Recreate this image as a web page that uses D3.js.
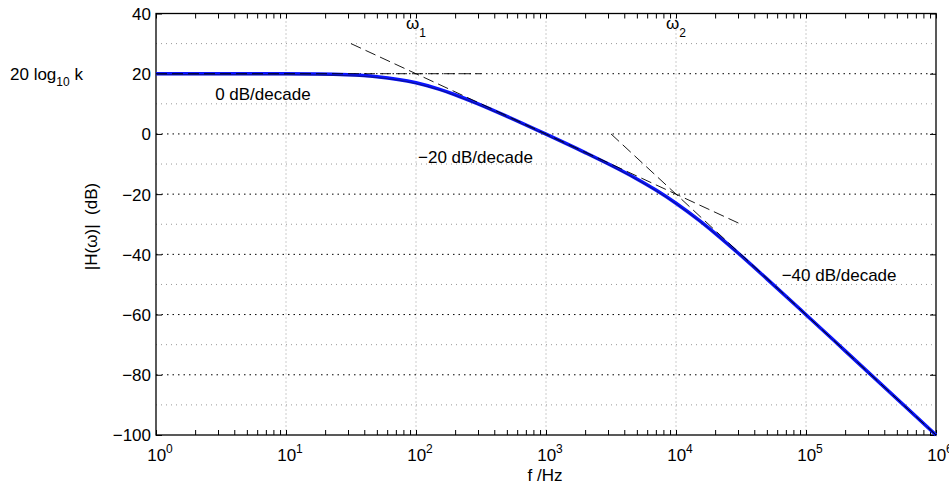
<!DOCTYPE html>
<html>
<head>
<meta charset="utf-8">
<script src="https://cdn.jsdelivr.net/npm/d3@7"></script>
<style>
  body { margin: 0; background: #fff; }
  svg { font-family: "Liberation Sans", Arial, Helvetica, sans-serif; font-size: 17px; }
  .axis path { display: none; }
  .axis line { stroke: #000; }
</style>
</head>
<body>
<div id="chart"></div>
<script>
// data
const freqs = [1, 10, 30, 50, 100, 150, 200, 300, 500, 1000, 2000, 3000, 5000, 7000,
  10000, 15000, 20000, 30000, 50000, 100000, 200000, 1000000];
const magDb = [20, 19.96, 19.63, 19.03, 16.99, 14.88, 13.01, 9.99, 5.84, -0.09, -6.2, -9.92, -14.95, -18.63,
  -23.01, -28.64, -33.01, -39.54, -48.13, -60.04, -72.05, -100];

// straight-line asymptotes (dashed)
const asymFreqs = [[1, 316], [31.6, 31623], [3162, 1000000]];
const asymDb = [[20, 20], [30, -30], [0, -100]];

const decades = [1, 10, 100, 1000, 10000, 100000, 1000000];
const decadeExp = ['0', '1', '2', '3', '4', '5', '6'];
const yTicks = [40, 20, 0, -20, -40, -60, -80, -100];
const yMinor = [30, 10, -10, -30, -50, -70, -90];

const width = 949, height = 486;
const margins = { top: 13.5, right: 13, bottom: 51, left: 156 };
const innerW = width - margins.left - margins.right;
const innerH = height - margins.top - margins.bottom;

const xScale = d3.scaleLog().domain([1, 1e6]).range([0, innerW]);
const yScale = d3.scaleLinear().domain([-100, 40]).range([innerH, 0]);

const $svg = d3.select('#chart').append('svg')
  .attr('width', width)
  .attr('height', height);

const $g = $svg.append('g')
  .attr('transform', `translate(${margins.left}, ${margins.top})`);

// grid
const $grid = $g.append('g').attr('class', 'grid');
$grid.selectAll('line.vg')
  .data(decades.slice(1, -1))
  .enter().append('line')
  .attr('x1', d => xScale(d)).attr('x2', d => xScale(d))
  .attr('y1', 0).attr('y2', innerH)
  .style('stroke', '#999').style('stroke-width', 1).style('stroke-dasharray', '1,3');

$grid.selectAll('line.hm')
  .data(yMinor)
  .enter().append('line')
  .attr('x1', 0).attr('x2', innerW)
  .attr('y1', d => yScale(d)).attr('y2', d => yScale(d))
  .style('stroke', '#999').style('stroke-width', 1).style('stroke-dasharray', '1,4');

$grid.selectAll('line.hg')
  .data(yTicks.slice(1, -1))
  .enter().append('line')
  .attr('x1', 0).attr('x2', innerW)
  .attr('y1', d => yScale(d)).attr('y2', d => yScale(d))
  .style('stroke', '#000').style('stroke-width', 1).style('stroke-dasharray', '1.5,4');

// minor x ticks (2..9 per decade)
const minorX = [];
decades.slice(0, -1).forEach(d => { for (let k = 2; k < 10; k++) minorX.push(d * k); });

const xAxis = d3.axisBottom(xScale)
  .tickValues(decades.concat(minorX))
  .tickSizeInner(-5)
  .tickSizeOuter(0)
  .tickFormat('');

const xAxisTop = d3.axisTop(xScale)
  .tickValues(decades.concat(minorX))
  .tickSizeInner(-5)
  .tickSizeOuter(0)
  .tickFormat('');

const yAxis = d3.axisLeft(yScale)
  .tickValues(yTicks)
  .tickSizeInner(-6)
  .tickSizeOuter(0)
  .tickPadding(5)
  .tickFormat(d => d < 0 ? '\u2212' + Math.abs(d) : d);

const yAxisRight = d3.axisRight(yScale)
  .tickValues(yTicks)
  .tickSizeInner(-6)
  .tickSizeOuter(0)
  .tickFormat('');

$g.append('g').attr('class', 'x axis')
  .attr('transform', `translate(0, ${innerH})`)
  .call(xAxis);
$g.append('g').attr('class', 'x axis').call(xAxisTop);
const $yAxisGroup = $g.append('g').attr('class', 'y axis').call(yAxis);
$yAxisGroup.selectAll('text').style('font-size', '17px').attr('dy', '0.35em');
$g.append('g').attr('class', 'y axis')
  .attr('transform', `translate(${innerW}, 0)`)
  .call(yAxisRight);

// x tick labels with superscripts
const $xl = $g.append('g').selectAll('text')
  .data(decades)
  .enter().append('text')
  .attr('x', d => xScale(d) + 4)
  .attr('y', innerH + 26)
  .attr('text-anchor', 'middle');
$xl.append('tspan').text('10');
$xl.append('tspan').attr('dy', -8).style('font-size', '12px').text((d, i) => decadeExp[i]);

// frame
$g.append('rect')
  .attr('x', 0).attr('y', 0)
  .attr('width', innerW).attr('height', innerH)
  .style('fill', 'none').style('stroke', '#000').style('stroke-width', 1.3);

// response curve
const pts = freqs.map((f, i) => [xScale(f), yScale(magDb[i])]);
const line = d3.line().curve(d3.curveMonotoneX);

$g.append('path')
  .attr('d', line(pts))
  .style('fill', 'none')
  .style('stroke', '#0a14ff')
  .style('stroke-width', 3.5);

$g.append('path')
  .attr('d', line(pts))
  .attr('transform', 'translate(0.6, 0.9)')
  .style('fill', 'none')
  .style('stroke', '#101030')
  .style('stroke-width', 0.8)
  .style('opacity', 0.7);

// asymptotes
const straight = d3.line();
asymFreqs.forEach((fs, i) => {
  $g.append('path')
    .attr('d', straight(fs.map((f, j) => [xScale(f), yScale(asymDb[i][j])])))
    .style('fill', 'none')
    .style('stroke', '#000')
    .style('stroke-width', 0.9)
    .style('stroke-dasharray', '11,5');
});

// annotations
const $w1 = $g.append('text').attr('x', xScale(100) - 10).attr('y', 15);
$w1.append('tspan').text('\u03c9');
$w1.append('tspan').attr('dy', 8).style('font-size', '12px').text('1');

const $w2 = $g.append('text').attr('x', xScale(10000) - 10).attr('y', 15);
$w2.append('tspan').text('\u03c9');
$w2.append('tspan').attr('dy', 8).style('font-size', '12px').text('2');

$g.append('text').attr('x', xScale(2.85)).attr('y', yScale(12) + 2).text('0 dB/decade');
$g.append('text').attr('x', xScale(100) + 2).attr('y', yScale(-10) - 1).text('\u221220 dB/decade');
$g.append('text').attr('x', xScale(65000)).attr('y', yScale(-48.8)).text('\u221240 dB/decade');

// left label for the gain level
const $k = $svg.append('text').attr('x', 10).attr('y', margins.top + yScale(20) + 6);
$k.append('tspan').text('20 log');
$k.append('tspan').attr('dy', 6).style('font-size', '12px').text('10');
$k.append('tspan').attr('dy', -6).text(' k');

// axis titles
$svg.append('text')
  .attr('transform', `translate(97, 226.5) rotate(-90)`)
  .attr('text-anchor', 'middle')
  .style('white-space', 'pre')
  .text('|H(\u03c9)|  (dB)');

$svg.append('text')
  .attr('x', margins.left + xScale(1000) - 1)
  .attr('y', 481)
  .attr('text-anchor', 'middle')
  .text('f /Hz');
</script>
</body>
</html>
